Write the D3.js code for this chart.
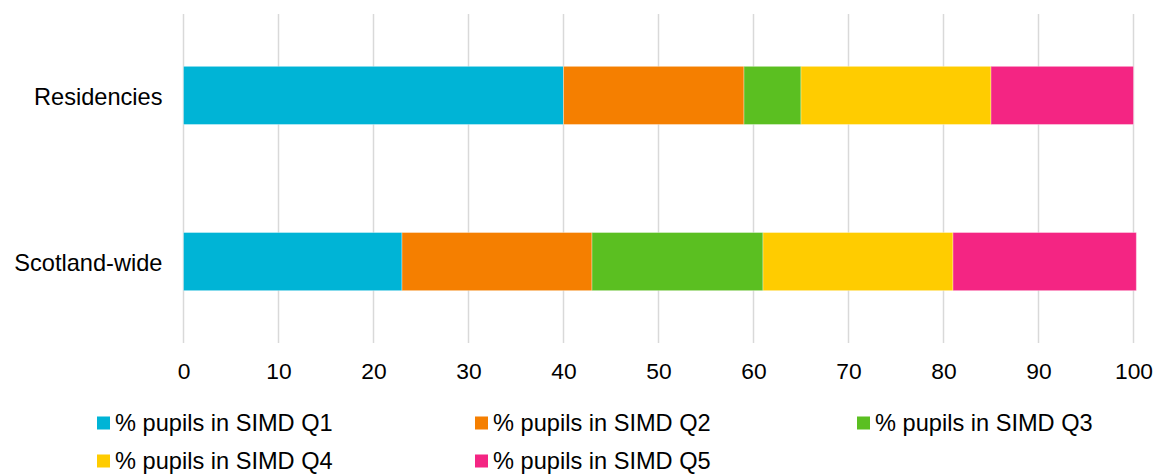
<!DOCTYPE html>
<html>
<head>
<meta charset="utf-8">
<script src="https://cdn.jsdelivr.net/npm/d3@7"></script>
<style>
  body { margin: 0; background: #fff; }
  svg { display: block; font-family: "Liberation Sans", Arial, sans-serif; }
</style>
</head>
<body>
<svg id="chart"></svg>
<script>
var categories = ["Residencies", "Scotland-wide"];
var seriesNames = ["% pupils in SIMD Q1", "% pupils in SIMD Q2", "% pupils in SIMD Q3", "% pupils in SIMD Q4", "% pupils in SIMD Q5"];
var q1 = [40, 23];
var q2 = [19, 20];
var q3 = [6, 18];
var q4 = [20, 20];
var q5 = [15, 19.3];
var xTicks = [0, 10, 20, 30, 40, 50, 60, 70, 80, 90, 100];
var colors = ["#00b4d6", "#f57f00", "#5bbf21", "#ffcc00", "#f42583"];

var width = 1161,
    height = 475,
    margin = {top: 14, right: 27.5, bottom: 132, left: 183.5};

var svg = d3.select("#chart")
    .attr("width", width)
    .attr("height", height);

var rows = categories.map(function(c, i) {
    return {cat: c, q1: q1[i], q2: q2[i], q3: q3[i], q4: q4[i], q5: q5[i]};
});
var keys = ["q1", "q2", "q3", "q4", "q5"];
var stacked = d3.stack().keys(keys)(rows);

var x = d3.scaleLinear().domain([0, 100]).range([margin.left, width - margin.right]);
var y = d3.scaleBand().domain(categories).range([margin.top, height - margin.bottom]).paddingInner(0.65).paddingOuter(0.315);

// gridlines
svg.append("g")
    .selectAll("line")
    .data(xTicks)
    .join("line")
    .attr("x1", d => x(d))
    .attr("x2", d => x(d))
    .attr("y1", margin.top)
    .attr("y2", height - margin.bottom)
    .attr("stroke", "#d9d9d9")
    .attr("stroke-width", 1.5);

// bars
svg.append("g")
    .selectAll("g")
    .data(stacked)
    .join("g")
    .attr("fill", (d, i) => colors[i])
    .selectAll("rect")
    .data(d => d)
    .join("rect")
    .attr("x", d => x(d[0]))
    .attr("y", d => y(d.data.cat))
    .attr("width", d => x(d[1]) - x(d[0]))
    .attr("height", y.bandwidth())
    .attr("stroke", "#fff")
    .attr("stroke-opacity", 0.35)
    .attr("stroke-width", 1);

// x axis labels
var xAxis = svg.append("g")
    .attr("transform", "translate(0," + (height - margin.bottom) + ")")
    .call(d3.axisBottom(x).tickValues(xTicks).tickSize(0).tickPadding(20));
xAxis.select(".domain").remove();
xAxis.selectAll("text")
    .attr("font-size", "22.8px")
    .attr("fill", "#000")
    .style("font-family", "'Liberation Sans', Arial, sans-serif");

// y axis labels
var yAxis = svg.append("g")
    .attr("transform", "translate(" + margin.left + ",0)")
    .call(d3.axisLeft(y).tickSize(0).tickPadding(21));
yAxis.select(".domain").remove();
yAxis.selectAll("text")
    .attr("font-size", "23.6px")
    .attr("fill", "#000")
    .attr("dy", "0.4em")
    .style("font-family", "'Liberation Sans', Arial, sans-serif");

// legend
var legendPos = [[97, 423], [475, 423], [857, 423], [97, 461], [475, 461]];
var legend = svg.append("g")
    .selectAll("g")
    .data(seriesNames)
    .join("g")
    .attr("transform", (d, i) => "translate(" + legendPos[i][0] + "," + legendPos[i][1] + ")");

legend.append("rect")
    .attr("x", 0)
    .attr("y", -6.5)
    .attr("width", 13)
    .attr("height", 13)
    .attr("fill", (d, i) => colors[i]);

legend.append("text")
    .attr("x", 18)
    .attr("y", 0)
    .attr("dy", "0.35em")
    .attr("font-size", "23.6px")
    .attr("fill", "#000")
    .text(d => d);
</script>
</body>
</html>
